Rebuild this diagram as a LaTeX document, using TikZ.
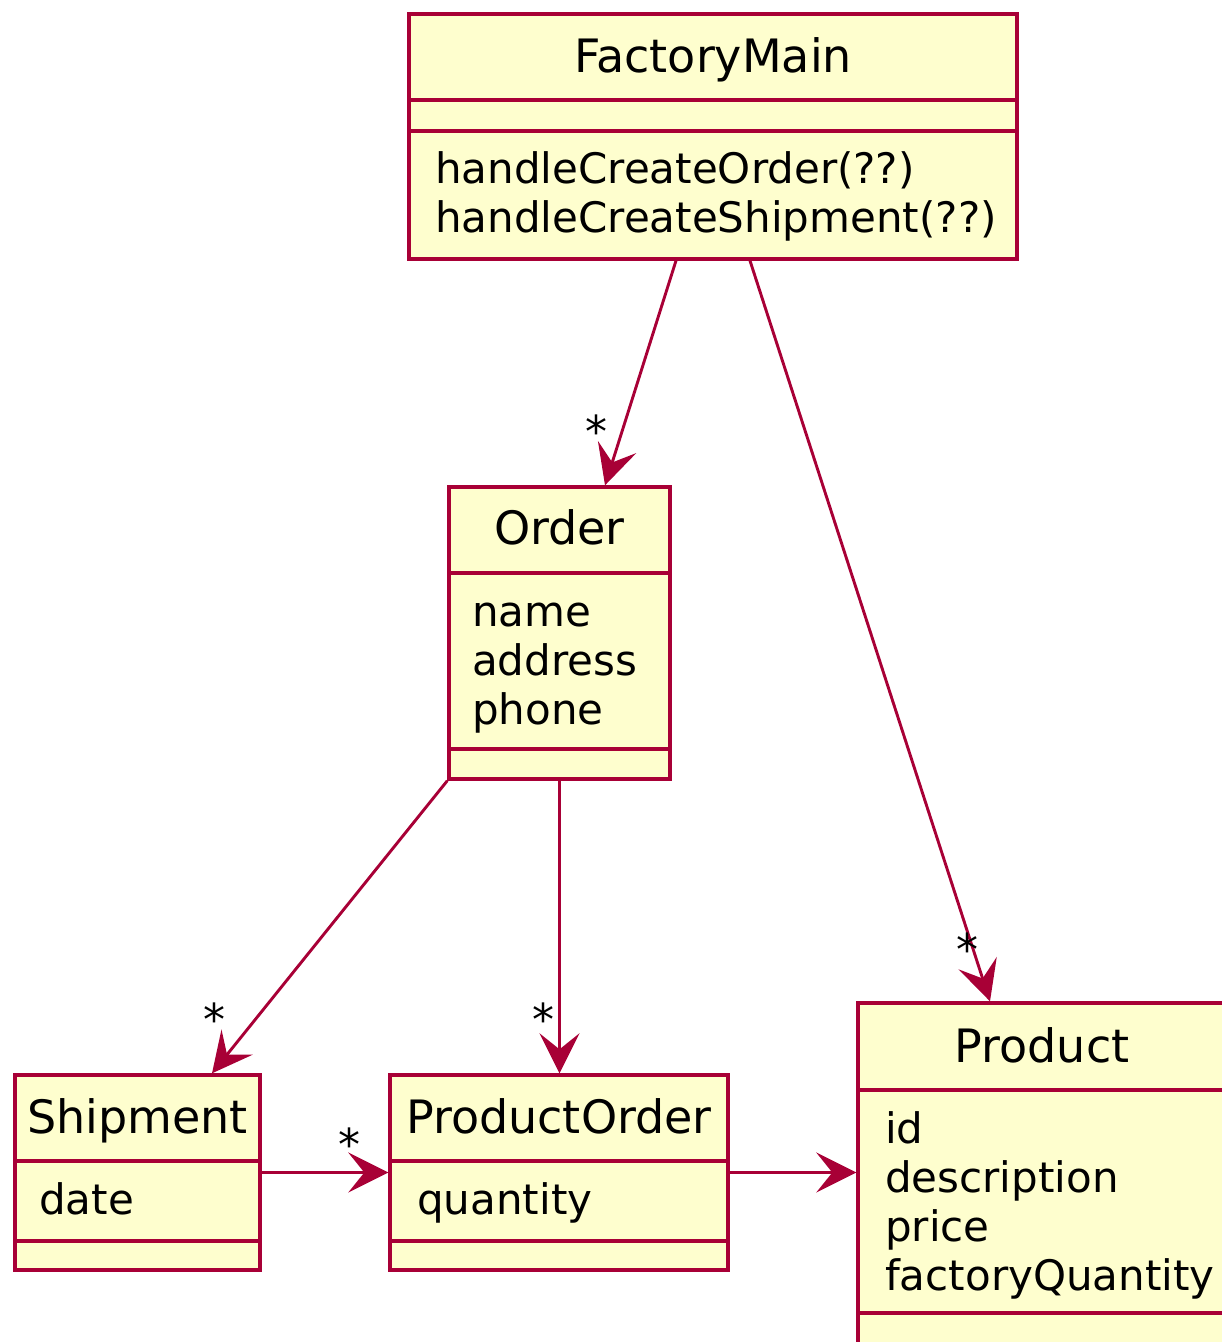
\documentclass[tikz,border=0pt]{standalone}
\usepackage{fontspec}
\setmainfont{DejaVu Sans}
\usetikzlibrary{arrows.meta,calc}
\definecolor{umlfill}{HTML}{FEFECE}
\definecolor{umlline}{HTML}{A80036}
\tikzset{
  cls/.style={draw=umlline, fill=umlfill, line width=3.4pt, inner sep=0pt},
  sep/.style={draw=umlline, line width=3.4pt},
  cname/.style={anchor=base, inner sep=0pt, font=\fontsize{46}{49}\selectfont},
  member/.style={anchor=base west, inner sep=0pt, font=\fontsize{42}{49}\selectfont},
  mult/.style={anchor=base, inner sep=0pt, font=\fontsize{44}{49}\selectfont},
  assoc/.style={draw=umlline, line width=2.9pt,
    -{Stealth[length=40pt, width=40pt, inset=16pt]}},
}
\begin{document}
\begin{tikzpicture}[x=1pt, y=-1pt]
\useasboundingbox (0,0) rectangle (1222,1342);
\clip (0,0) rectangle (1222,1342);

% FactoryMain
\node[cls, minimum width=608pt, minimum height=245pt] (fm) at (713,136.5) {};
\draw[sep] (409,100) -- (1017,100);
\draw[sep] (409,131) -- (1017,131);
\node[cname] (fmname) at (713,72) {FactoryMain};
\node[member] (fmm1) at (435,183) {handleCreateOrder(??)};
\node[member] (fmm2) at (435,232) {handleCreateShipment(??)};

% Order
\node[cls, minimum width=221pt, minimum height=292pt] (ord) at (559.5,633) {};
\draw[sep] (449,573) -- (670,573);
\draw[sep] (449,749) -- (670,749);
\node[cname] (ordname) at (559.5,544) {Order};
\node[member] (orda1) at (472,626) {name};
\node[member] (orda2) at (472,675) {address};
\node[member] (orda3) at (472,724) {phone};

% Shipment
\node[cls, minimum width=245pt, minimum height=195pt] (ship) at (137.5,1172.5) {};
\draw[sep] (15,1161) -- (260,1161);
\draw[sep] (15,1241) -- (260,1241);
\node[cname] (shipname) at (137.5,1133) {Shipment};
\node[member] (shipa1) at (39,1214) {date};

% ProductOrder
\node[cls, minimum width=338pt, minimum height=195pt] (po) at (559,1172.5) {};
\draw[sep] (390,1161) -- (728,1161);
\draw[sep] (390,1241) -- (728,1241);
\node[cname] (poname) at (559,1133) {ProductOrder};
\node[member] (poa1) at (417,1214) {quantity};

% Product
\node[cls, minimum width=368pt, minimum height=370pt] (prod) at (1042,1188) {};
\draw[sep] (858,1090) -- (1226,1090);
\draw[sep] (858,1313) -- (1226,1313);
\node[cname] (prodname) at (1042,1062) {Product};
\node[member] (proda1) at (885,1143) {id};
\node[member] (proda2) at (885,1192) {description};
\node[member] (proda3) at (885,1241) {price};
\node[member] (proda4) at (885,1290) {factoryQuantity};

% Associations
\draw[assoc] ([xshift=-37pt]fm.south) -- ([xshift=45.5pt]ord.north);
\draw[assoc] ([xshift=37pt]fm.south) -- ([xshift=-52pt]prod.north);
\draw[assoc] (ord.south west) -- ([xshift=74.5pt]ship.north);
\draw[assoc] (ord.south) -- (ord.south |- po.north);
\draw[assoc] (ship.east) -- (po.west);
\draw[assoc] (po.east) -- (po.east -| prod.west);

% Multiplicities
\node[mult] (m1) at (596,447) {*};
\node[mult] (m2) at (967,965) {*};
\node[mult] (m3) at (214,1035) {*};
\node[mult] (m4) at (543,1035) {*};
\node[mult] (m5) at (349,1160) {*};
\end{tikzpicture}
\end{document}
